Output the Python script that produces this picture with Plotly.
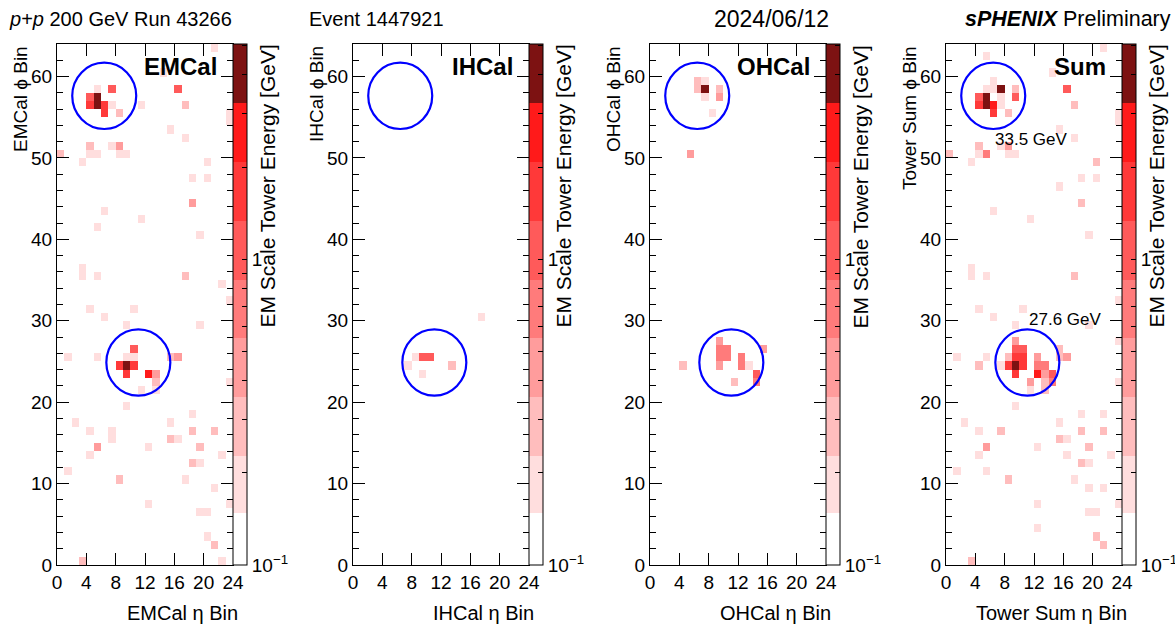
import math
import plotly.graph_objects as go

W, H = 1175, 625
N_ETA, N_PHI = 24, 64

# ---------------- data (tower energies in GeV, EM scale) ----------------
emcal_eta = [21, 14, 5, 7, 16, 4, 5, 4, 5, 6, 7, 11, 17, 6, 8, 23, 23, 15, 17, 4, 7, 8, 0, 4, 5, 8, 9, 3, 20, 18, 20,
             18, 6, 11, 5, 19, 3, 3, 5, 17, 22, 23, 4, 10, 6, 9, 19, 10, 1, 5, 9, 10, 15, 16, 8, 9, 10, 9, 12, 13, 13,
             23, 11, 13, 9, 18, 2, 15, 4, 7, 18, 21, 7, 15, 16, 5, 12, 19, 4, 22, 18, 19, 1, 8, 17, 21, 12, 23, 19,
             20, 20, 21, 3, 22]
emcal_phi = [63, 60, 58, 58, 58, 57, 57, 56, 56, 56, 56, 56, 56, 55, 55, 55, 54, 53, 52, 51, 51, 51, 50, 50, 50, 50,
             50, 49, 49, 47, 47, 44, 43, 42, 41, 40, 36, 35, 35, 35, 34, 32, 31, 31, 30, 29, 29, 26, 25, 25, 25, 25,
             25, 25, 24, 24, 24, 23, 23, 23, 22, 22, 21, 21, 19, 18, 17, 17, 16, 16, 16, 16, 15, 15, 15, 14, 14, 14,
             13, 13, 12, 12, 11, 10, 10, 9, 7, 7, 6, 6, 3, 2, 0, 0]
emcal_e = [0.18, 0.18, 0.18, 1.07, 1.07, 1.07, 4.0, 1.66, 4.0, 1.66, 0.18, 0.18, 0.28, 1.66, 0.28, 0.18, 0.18, 0.18,
           0.18, 0.28, 0.18, 0.44, 0.28, 0.18, 0.18, 0.18, 0.18, 0.18, 0.18, 0.18, 0.18, 0.44, 0.18, 0.18, 0.18, 0.18,
           0.18, 0.18, 0.18, 0.28, 0.18, 0.18, 0.18, 0.18, 0.18, 0.18, 0.18, 1.07, 0.18, 0.18, 0.18, 0.18, 0.28, 0.44,
           1.66, 4.0, 1.66, 1.66, 2.6, 0.44, 0.28, 0.18, 0.18, 0.18, 0.18, 0.18, 0.18, 0.18, 0.18, 0.18, 0.28, 0.28,
           0.18, 0.28, 0.18, 0.44, 0.18, 0.28, 0.18, 0.18, 0.28, 0.18, 0.18, 0.28, 0.18, 0.18, 0.18, 0.18, 0.18, 0.18,
           0.18, 0.28, 0.28, 0.18]

ihcal_eta = [17, 7, 8, 9, 10, 9, 13]
ihcal_phi = [30, 24, 25, 25, 25, 23, 24]
ihcal_e = [0.18, 0.18, 0.18, 1.07, 1.07, 0.18, 0.28]

ohcal_eta = [6, 6, 7, 7, 7, 9, 9, 8, 5, 9, 9, 10, 9, 10, 9, 12, 12, 13, 15, 14, 14, 11, 4]
ohcal_phi = [59, 58, 59, 58, 57, 58, 57, 55, 50, 27, 26, 26, 25, 25, 24, 25, 24, 24, 26, 23, 22, 22, 24]
ohcal_e = [0.28, 0.28, 0.18, 4.0, 0.18, 0.28, 0.44, 0.18, 0.44, 0.44, 0.69, 0.69, 0.69, 0.69, 0.44, 0.69, 0.69,
           0.18, 0.44, 1.07, 0.69, 0.28, 0.28]

sum_eta = [21, 5, 14, 6, 5, 6, 7, 9, 4, 5, 7, 9, 4, 5, 6, 7, 6, 8, 16, 17, 23, 23, 15, 17, 4, 7, 8, 4, 5, 8, 9, 0,
           3, 20, 18, 20, 15, 18, 6, 11, 19, 3, 3, 5, 17, 23, 4, 10, 6, 9, 19, 23,
           9, 9, 10, 8, 9, 10, 12, 15, 15, 16, 1, 5, 4, 7, 8, 9, 10, 12, 13, 9, 12, 13, 14, 11, 13, 14, 11, 13, 23,
           9, 18, 21, 2, 15, 4, 7, 18, 21, 15, 16, 5, 12, 19, 4, 16, 22, 18, 19, 1, 5, 8, 17, 19, 21, 12, 23, 19,
           20, 12, 20, 21, 3]
sum_phi = [63, 62, 60, 59, 58, 58, 58, 58, 57, 57, 57, 57, 56, 56, 56, 56, 55, 55, 58, 56, 55, 54, 53, 52, 51, 51,
           51, 50, 50, 50, 50, 50, 49, 49, 47, 47, 46, 44, 43, 42, 40, 36, 35, 35, 35, 32, 31, 31, 30, 29, 29, 27,
           27, 26, 26, 25, 25, 25, 25, 26, 25, 25, 25, 25, 24, 24, 24, 24, 24, 24, 24, 23, 23, 23, 23, 22, 22, 22,
           21, 21, 22, 19, 18, 18, 17, 17, 16, 16, 16, 16, 15, 15, 14, 14, 14, 13, 13, 13, 12, 12, 11, 11, 10, 10,
           9, 9, 7, 7, 6, 6, 4, 3, 2, 0]
sum_e = [0.18, 0.18, 0.18, 0.18, 0.18, 0.18, 4.0, 0.28, 1.07, 4.0, 0.18, 1.07, 1.66, 4.0, 2.6, 0.18, 1.66, 0.28,
         1.07, 0.28, 0.18, 0.18, 0.18, 0.18, 0.28, 0.18, 0.44, 0.18, 0.69, 0.18, 0.18, 0.28, 0.18, 0.28, 0.18, 0.18,
         0.18, 0.28, 0.18, 0.18, 0.18, 0.18, 0.18, 0.18, 0.28, 0.18, 0.18, 0.18, 0.18, 0.18, 0.18, 0.18,
         0.44, 1.07, 1.07, 0.28, 1.66, 1.66, 0.44, 0.28, 0.28, 0.44, 0.18, 0.18, 0.28, 0.18, 1.66, 4.0, 1.66, 0.69,
         0.69, 1.66, 2.6, 0.44, 1.07, 0.44, 0.28, 0.69, 0.18, 0.28, 0.18,
         0.18, 0.18, 0.18, 0.18, 0.18, 0.18, 0.28, 0.28, 0.28, 0.28, 0.18, 0.44, 0.18, 0.28, 0.18, 0.18, 0.18, 0.28,
         0.18, 0.18, 0.18, 0.28, 0.18, 0.18, 0.18, 0.18, 0.18, 0.18, 0.18, 0.18, 0.28, 0.28, 0.28]

# reconstructed jets (eta bin, phi bin), cone radius, and labels
jet_eta = [6.44, 11.09]
jet_phi = [57.63, 24.88]
jet_R = 0.4
jet_label = ["33.5 GeV", "27.6 GeV"]
jet_label_phi = [52.3, 30.1]

panel_names = ["EMCal", "IHCal", "OHCal", "Sum"]
x_titles = ["EMCal η Bin", "IHCal η Bin", "OHCal η Bin", "Tower Sum η Bin"]
y_titles = ["EMCal ϕ Bin", "IHCal ϕ Bin", "OHCal ϕ Bin", "Tower Sum ϕ Bin"]
cbar_title = "EM Scale Tower Energy [GeV]"
x_tickvals = [0, 4, 8, 12, 16, 20, 24]
e_min, e_max = 0.1, 5.05

# ---------------- style ----------------
FONT = "Liberation Sans, Arial, Helvetica, sans-serif"
panel_left = [57, 353, 650, 946]
PW = 176
top_px, bot_px = 44, 565
CB_W = 14

level_colors = ["#FFFFFF", "#FFDEDE", "#FFBDBD", "#FF9C9C", "#FF7B7B", "#FF5A5A", "#FF3939", "#FF1A1A", "#7D1212"]
level_edges = [0.0, 0.0998, 0.209, 0.322, 0.436, 0.547, 0.660, 0.773, 0.887, 1.0]
colorscale = []
for k, c in enumerate(level_colors):
    colorscale.append([level_edges[k], c])
    colorscale.append([level_edges[k + 1], c])

lmin, lmax = math.log10(e_min), math.log10(e_max)
cb_vals = [0.1, 0.2, 0.3, 0.4, 0.5, 0.6, 0.7, 0.8, 0.9, 1, 2, 3, 4, 5]
cb_tickvals = [math.log10(v) for v in cb_vals]
cb_ticktext = ["10<sup>−1</sup>" if v == 0.1 else ("1" if v == 1 else "") for v in cb_vals]


def px(x):
    return x / W


def py(y):
    return 1 - y / H


def grid(etas, phis, es):
    z = [[None] * N_ETA for _ in range(N_PHI)]
    for i, j, e in zip(etas, phis, es):
        z[j][i] = math.log10(e)
    return z


datasets = [(emcal_eta, emcal_phi, emcal_e), (ihcal_eta, ihcal_phi, ihcal_e),
            (ohcal_eta, ohcal_phi, ohcal_e), (sum_eta, sum_phi, sum_e)]

fig = go.Figure()
annotations = []
shapes = []
for p, (etas, phis, es) in enumerate(datasets):
    n = "" if p == 0 else str(p + 1)
    L = panel_left[p]
    R = L + PW
    fig.add_trace(go.Heatmap(
        z=grid(etas, phis, es), x0=0.5, dx=1, y0=0.5, dy=1,
        xaxis="x" + n, yaxis="y" + n,
        zmin=lmin, zmax=lmax, colorscale=colorscale, hoverinfo="skip",
        colorbar=dict(
            x=px(R), xanchor="left", xpad=0, y=py((top_px + bot_px) / 2), yanchor="middle", ypad=0,
            len=(bot_px - top_px) / H, lenmode="fraction", thickness=CB_W, thicknessmode="pixels",
            outlinewidth=1, outlinecolor="black",
            tickmode="array", tickvals=cb_tickvals, ticktext=cb_ticktext,
            ticks="inside", ticklen=5, tickcolor="black",
            tickfont=dict(family=FONT, size=19, color="black"),
        ),
    ))
    common = dict(showline=True, linecolor="black", linewidth=1, mirror="ticks", ticks="inside",
                  tickcolor="black", showgrid=False, zeroline=False,
                  tickfont=dict(family=FONT, size=19, color="black"))
    fig.layout["xaxis" + n] = dict(domain=[px(L), px(R)], range=[0, N_ETA], anchor="y" + n,
                                   tickvals=x_tickvals, ticklen=12, **common)
    fig.layout["yaxis" + n] = dict(domain=[py(bot_px), py(top_px)], range=[0, N_PHI], anchor="x" + n,
                                   dtick=10, tick0=0, ticklen=12,
                                   minor=dict(dtick=2, ticklen=6, ticks="inside", tickcolor="black"), **common)
    # jet cones
    for je, jp in zip(jet_eta, jet_phi):
        rx = jet_R / (2.2 / N_ETA)
        ry = jet_R / (2 * math.pi / N_PHI)
        shapes.append(dict(type="circle", xref="x" + n, yref="y" + n, x0=je - rx, x1=je + rx,
                           y0=jp - ry, y1=jp + ry, line=dict(color="#0000FF", width=2.2)))
    # panel label
    annotations.append(dict(x=px(R - 14), y=py(67), xref="paper", yref="paper", xanchor="right", yanchor="middle",
                            text="<b>%s</b>" % panel_names[p], showarrow=False,
                            font=dict(family=FONT, size=24, color="black")))
    # axis titles
    annotations.append(dict(x=px(R + 7), y=py(613), xref="paper", yref="paper", xanchor="right", yanchor="middle",
                            text=x_titles[p], showarrow=False, font=dict(family=FONT, size=20, color="black")))
    annotations.append(dict(x=px(L - 37), y=py(44), xref="paper", yref="paper", xanchor="center", yanchor="top",
                            textangle=-90, text=y_titles[p], showarrow=False,
                            font=dict(family=FONT, size=19, color="black")))
    annotations.append(dict(x=px(R + CB_W + 20), y=py(43), xref="paper", yref="paper", xanchor="center",
                            yanchor="top", textangle=-90, text=cbar_title, showarrow=False,
                            font=dict(family=FONT, size=21, color="black")))

# jet energy labels on the sum panel
for je, lp, lab in zip(jet_eta, jet_label_phi, jet_label):
    annotations.append(dict(x=je, y=lp, xref="x4", yref="y4", xanchor="left", yanchor="middle", text=lab,
                            showarrow=False, font=dict(family=FONT, size=17, color="black")))

# header
hdr = dict(xref="paper", yref="paper", yanchor="middle", showarrow=False)
annotations.append(dict(x=px(7), y=py(19), xanchor="left", text="<i>p</i>+<i>p</i> 200 GeV Run 43266",
                        font=dict(family=FONT, size=20, color="black"), **hdr))
annotations.append(dict(x=px(307), y=py(19), xanchor="left", text="Event 1447921",
                        font=dict(family=FONT, size=20, color="black"), **hdr))
annotations.append(dict(x=px(712), y=py(19), xanchor="left", text="2024/06/12",
                        font=dict(family=FONT, size=23, color="black"), **hdr))
annotations.append(dict(x=px(1173), y=py(19), xanchor="right", text="<b><i>sPHENIX</i></b> Preliminary",
                        font=dict(family=FONT, size=21.5, color="black"), **hdr))

fig.update_layout(width=W, height=H, margin=dict(l=0, r=0, t=0, b=0, autoexpand=False), paper_bgcolor="white",
                  plot_bgcolor="white", showlegend=False, annotations=annotations, shapes=shapes)
fig.write_html("out.html", config={"displayModeBar": False})
